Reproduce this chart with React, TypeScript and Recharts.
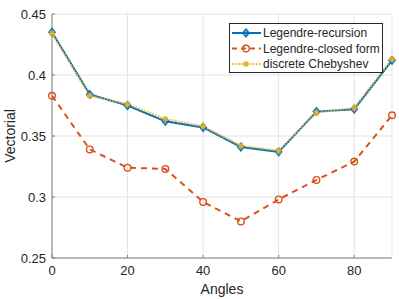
import React from 'react';
import { LineChart, Line, XAxis, YAxis, CartesianGrid, Legend } from 'recharts';

const angles = [0, 10, 20, 30, 40, 50, 60, 70, 80, 90];
const legendreRecursion = [0.435, 0.384, 0.375, 0.362, 0.357, 0.341, 0.337, 0.370, 0.372, 0.412];
const legendreClosed = [0.383, 0.339, 0.324, 0.323, 0.296, 0.280, 0.298, 0.314, 0.329, 0.367];
const discreteChebyshev = [0.434, 0.383, 0.376, 0.364, 0.358, 0.342, 0.338, 0.369, 0.373, 0.413];
const xTicks = [0, 20, 40, 60, 80];
const yTicks = [0.25, 0.3, 0.35, 0.4, 0.45];

const BLUE = '#0072BD';
const ORANGE = '#D95319';
const YELLOW = '#EDB120';
const AXIS = '#808080';
const TEXT = '#262626';
const FONT = '"Liberation Sans", Arial, Helvetica, sans-serif';

const data = angles.map((a, i) => ({
  angle: a,
  rec: legendreRecursion[i],
  closed: legendreClosed[i],
  cheb: discreteChebyshev[i],
}));

const Diamond = ({ cx, cy }: any) => (
  <path d={`M${cx},${cy - 4}L${cx + 3.3},${cy}L${cx},${cy + 4}L${cx - 3.3},${cy}Z`} fill={BLUE} fillOpacity={0.6} stroke={BLUE} strokeWidth={1.2} />
);
const Circle = ({ cx, cy }: any) => (
  <circle cx={cx} cy={cy} r={3.3} fill="none" stroke={ORANGE} strokeWidth={1.4} />
);
const Star = ({ cx, cy }: any) => (
  <g stroke={YELLOW} strokeWidth={1.3}>
    <line x1={cx - 3} y1={cy} x2={cx + 3} y2={cy} />
    <line x1={cx} y1={cy - 3} x2={cx} y2={cy + 3} />
    <line x1={cx - 2.2} y1={cy - 2.2} x2={cx + 2.2} y2={cy + 2.2} />
    <line x1={cx - 2.2} y1={cy + 2.2} x2={cx + 2.2} y2={cy - 2.2} />
  </g>
);

const legendItems = [
  { label: 'Legendre-recursion', color: BLUE, dash: undefined as string | undefined, width: 2, marker: 'd' },
  { label: 'Legendre-closed form', color: ORANGE, dash: '5 4', width: 2, marker: 'o' },
  { label: 'discrete Chebyshev', color: YELLOW, dash: '1.5 1.5', width: 2, marker: '*' },
];

const renderLegend = () => (
  <svg width={154} height={50} style={{ display: 'block' }}>
    <rect x={0.5} y={0.5} width={153} height={49} fill="#fff" stroke={TEXT} strokeWidth={1} />
    {legendItems.map((it, i) => {
      const y = 10 + i * 15.5;
      return (
        <g key={it.label}>
          <line x1={3} x2={32} y1={y} y2={y} stroke={it.color} strokeWidth={it.width} strokeDasharray={it.dash} />
          {it.marker === 'd' && <Diamond cx={17} cy={y} />}
          {it.marker === 'o' && <Circle cx={17} cy={y} />}
          {it.marker === '*' && <Star cx={17} cy={y} />}
          <text x={34} y={y + 4.3} fontSize={12} fill={TEXT} fontFamily={FONT}>{it.label}</text>
        </g>
      );
    })}
  </svg>
);

const XLabel = (props: any) => {
  const vb = props.viewBox || {};
  return (
    <text x={vb.x + vb.width / 2} y={vb.y + 36} textAnchor="middle" fontSize={14} fill={TEXT} fontFamily={FONT}>Angles</text>
  );
};
const YLabel = (props: any) => {
  const vb = props.viewBox || {};
  const cx = 10;
  const cy = vb.y + vb.height / 2;
  return (
    <text x={cx} y={cy} transform={`rotate(-90 ${cx} ${cy})`} textAnchor="middle" dominantBaseline="central" fontSize={14} fill={TEXT} fontFamily={FONT}>Vectorial</text>
  );
};

export default function App() {
  return (
    <div style={{ position: 'absolute', left: 0, top: 0, background: '#fff' }}>
      <LineChart width={399} height={299} data={data} margin={{ top: 14, right: 7, bottom: 11, left: 12 }}>
        <CartesianGrid stroke="#e3e3e3" strokeWidth={1} />
        <XAxis
          dataKey="angle"
          type="number"
          domain={[0, 90]}
          ticks={xTicks}
          height={30}
          stroke={AXIS}
          tickSize={-3}
          tickMargin={11}
          tick={{ fontSize: 13, fill: TEXT, fontFamily: FONT }}
          label={<XLabel />}
        />
        <XAxis xAxisId="top" orientation="top" dataKey="angle" type="number" domain={[0, 90]} ticks={xTicks} height={0} stroke={AXIS} tickSize={-3} tick={false} />
        <YAxis
          type="number"
          domain={[0.25, 0.45]}
          ticks={yTicks}
          width={40}
          stroke={AXIS}
          tickSize={-3}
          tickMargin={9}
          tickFormatter={(v: number) => String(Number(v.toFixed(2)))}
          tick={{ fontSize: 13, fill: TEXT, fontFamily: FONT }}
          label={<YLabel />}
        />
        <YAxis yAxisId="right" orientation="right" type="number" domain={[0.25, 0.45]} ticks={yTicks} width={0} stroke={AXIS} tickSize={-3} tick={false} />
        <Legend layout="vertical" align="center" verticalAlign="middle" content={renderLegend} wrapperStyle={{ position: 'absolute', left: 229, top: 23, width: 154, height: 50 }} />
        <Line dataKey="rec" stroke={BLUE} strokeWidth={2} dot={<Diamond />} isAnimationActive={false} />
        <Line dataKey="closed" stroke={ORANGE} strokeWidth={2} strokeDasharray="6 5" dot={<Circle />} isAnimationActive={false} />
        <Line dataKey="cheb" stroke={YELLOW} strokeWidth={2} strokeDasharray="1.5 1.5" dot={<Star />} isAnimationActive={false} />
      </LineChart>
    </div>
  );
}
